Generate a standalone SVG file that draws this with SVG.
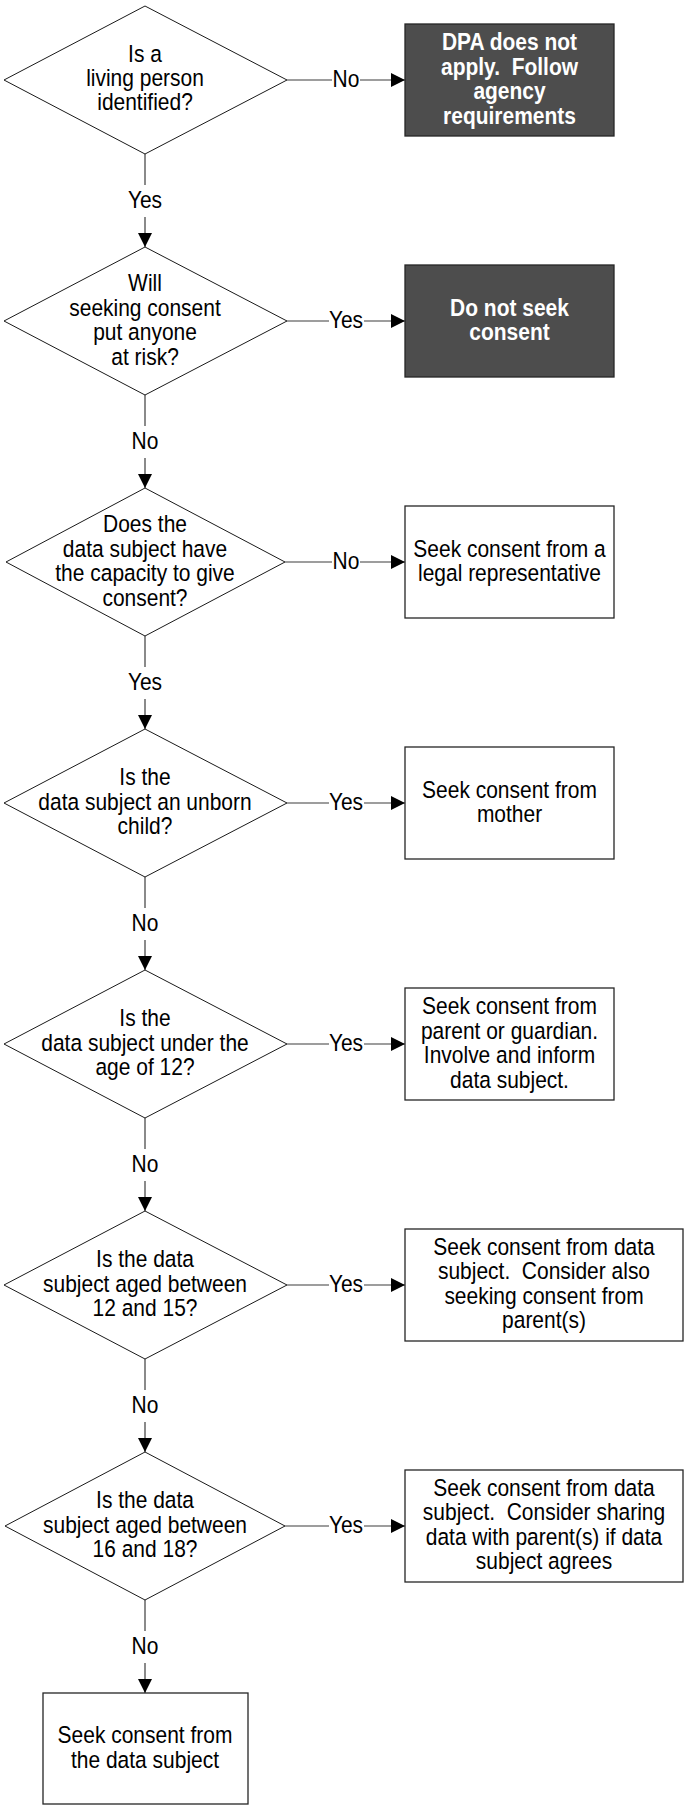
<svg xmlns="http://www.w3.org/2000/svg" width="684" height="1806" viewBox="0 0 684 1806">
<style>
.bg{fill:#ffffff}
.dia{fill:#ffffff;stroke:#1a1a1a;stroke-width:1}
.box{fill:#ffffff;stroke:#262626;stroke-width:1.3}
.dark{fill:#4d4d4d;stroke:#262626;stroke-width:1.3}
.t{font-family:"Liberation Sans",Arial,sans-serif;font-size:23.3px;fill:#000000;text-anchor:middle;white-space:pre}
.tw{font-family:"Liberation Sans",Arial,sans-serif;font-size:23.3px;font-weight:bold;fill:#ffffff;text-anchor:middle;white-space:pre}
.con{fill:none;stroke:#3c3c3c;stroke-width:1.2}
.lbg{fill:#ffffff}
</style>
<defs>
<marker id="arr" markerUnits="userSpaceOnUse" markerWidth="15" markerHeight="14" refX="14" refY="7" orient="auto">
<path d="M0,0 L14,7 L0,14 z" fill="#000000"/>
</marker>
</defs>
<rect class="bg" x="0" y="0" width="684" height="1806"/>

<g id="connectors">
<line class="con" x1="287" y1="80" x2="405" y2="80" marker-end="url(#arr)"/>
<line class="con" x1="287" y1="321" x2="405" y2="321" marker-end="url(#arr)"/>
<line class="con" x1="285" y1="562" x2="405" y2="562" marker-end="url(#arr)"/>
<line class="con" x1="287" y1="803" x2="405" y2="803" marker-end="url(#arr)"/>
<line class="con" x1="287" y1="1044" x2="405" y2="1044" marker-end="url(#arr)"/>
<line class="con" x1="287" y1="1285" x2="405" y2="1285" marker-end="url(#arr)"/>
<line class="con" x1="285" y1="1526" x2="405" y2="1526" marker-end="url(#arr)"/>
<line class="con" x1="145" y1="154" x2="145" y2="247" marker-end="url(#arr)"/>
<line class="con" x1="145" y1="395" x2="145" y2="488" marker-end="url(#arr)"/>
<line class="con" x1="145" y1="636" x2="145" y2="729" marker-end="url(#arr)"/>
<line class="con" x1="145" y1="877" x2="145" y2="970" marker-end="url(#arr)"/>
<line class="con" x1="145" y1="1118" x2="145" y2="1211" marker-end="url(#arr)"/>
<line class="con" x1="145" y1="1359" x2="145" y2="1452" marker-end="url(#arr)"/>
<line class="con" x1="145" y1="1600" x2="145" y2="1693" marker-end="url(#arr)"/>
<rect class="lbg" x="332" y="68" width="28" height="24"/><text class="t" transform="matrix(.9 0 0 1 346 87)">No</text>
<rect class="lbg" x="329" y="309" width="35" height="24"/><text class="t" transform="matrix(.9 0 0 1 346 328)">Yes</text>
<rect class="lbg" x="332" y="550" width="28" height="24"/><text class="t" transform="matrix(.9 0 0 1 346 569)">No</text>
<rect class="lbg" x="329" y="791" width="35" height="24"/><text class="t" transform="matrix(.9 0 0 1 346 810)">Yes</text>
<rect class="lbg" x="329" y="1032" width="35" height="24"/><text class="t" transform="matrix(.9 0 0 1 346 1051)">Yes</text>
<rect class="lbg" x="329" y="1273" width="35" height="24"/><text class="t" transform="matrix(.9 0 0 1 346 1292)">Yes</text>
<rect class="lbg" x="329" y="1514" width="35" height="24"/><text class="t" transform="matrix(.9 0 0 1 346 1533)">Yes</text>
<rect class="lbg" x="127" y="185" width="36" height="32"/><text class="t" transform="matrix(.9 0 0 1 145 208)">Yes</text>
<rect class="lbg" x="130" y="426" width="30" height="32"/><text class="t" transform="matrix(.9 0 0 1 145 449)">No</text>
<rect class="lbg" x="127" y="667" width="36" height="32"/><text class="t" transform="matrix(.9 0 0 1 145 690)">Yes</text>
<rect class="lbg" x="130" y="908" width="30" height="32"/><text class="t" transform="matrix(.9 0 0 1 145 931)">No</text>
<rect class="lbg" x="130" y="1149" width="30" height="32"/><text class="t" transform="matrix(.9 0 0 1 145 1172)">No</text>
<rect class="lbg" x="130" y="1390" width="30" height="32"/><text class="t" transform="matrix(.9 0 0 1 145 1413)">No</text>
<rect class="lbg" x="130" y="1631" width="30" height="32"/><text class="t" transform="matrix(.9 0 0 1 145 1654)">No</text>
</g>

<g id="d1">
<polygon class="dia" points="145,6 287,80 145,154 4,80"/>
<text class="t" transform="matrix(.9 0 0 1 145 62)">Is a</text>
<text class="t" transform="matrix(.9 0 0 1 145 86)">living person</text>
<text class="t" transform="matrix(.9 0 0 1 145 110)">identified?</text>
</g>
<g id="b1">
<rect class="dark" x="405" y="24" width="209" height="112"/>
<text class="tw" transform="matrix(.9 0 0 1 509.5 50)">DPA does not</text>
<text class="tw" transform="matrix(.9 0 0 1 509.5 74.5)">apply.  Follow</text>
<text class="tw" transform="matrix(.9 0 0 1 509.5 99)">agency</text>
<text class="tw" transform="matrix(.9 0 0 1 509.5 123.5)">requirements</text>
</g>

<g id="d2">
<polygon class="dia" points="145,247 287,321 145,395 4,321"/>
<text class="t" transform="matrix(.9 0 0 1 145 291)">Will</text>
<text class="t" transform="matrix(.9 0 0 1 145 315.5)">seeking consent</text>
<text class="t" transform="matrix(.9 0 0 1 145 340)">put anyone</text>
<text class="t" transform="matrix(.9 0 0 1 145 364.5)">at risk?</text>
</g>
<g id="b2">
<rect class="dark" x="405" y="265" width="209" height="112"/>
<text class="tw" transform="matrix(.9 0 0 1 509.5 315.5)">Do not seek</text>
<text class="tw" transform="matrix(.9 0 0 1 509.5 340)">consent</text>
</g>

<g id="d3">
<polygon class="dia" points="145,488 285,562 145,636 6,562"/>
<text class="t" transform="matrix(.9 0 0 1 145 532)">Does the</text>
<text class="t" transform="matrix(.9 0 0 1 145 556.5)">data subject have</text>
<text class="t" transform="matrix(.9 0 0 1 145 581)">the capacity to give</text>
<text class="t" transform="matrix(.9 0 0 1 145 605.5)">consent?</text>
</g>
<g id="b3">
<rect class="box" x="405" y="506" width="209" height="112"/>
<text class="t" transform="matrix(.9 0 0 1 509.5 556.5)">Seek consent from a</text>
<text class="t" transform="matrix(.9 0 0 1 509.5 581)">legal representative</text>
</g>

<g id="d4">
<polygon class="dia" points="145,729 287,803 145,877 4,803"/>
<text class="t" transform="matrix(.9 0 0 1 145 785)">Is the</text>
<text class="t" transform="matrix(.9 0 0 1 145 809.5)">data subject an unborn</text>
<text class="t" transform="matrix(.9 0 0 1 145 834)">child?</text>
</g>
<g id="b4">
<rect class="box" x="405" y="747" width="209" height="112"/>
<text class="t" transform="matrix(.9 0 0 1 509.5 797.5)">Seek consent from</text>
<text class="t" transform="matrix(.9 0 0 1 509.5 822)">mother</text>
</g>

<g id="d5">
<polygon class="dia" points="145,970 287,1044 145,1118 4,1044"/>
<text class="t" transform="matrix(.9 0 0 1 145 1026)">Is the</text>
<text class="t" transform="matrix(.9 0 0 1 145 1050.5)">data subject under the</text>
<text class="t" transform="matrix(.9 0 0 1 145 1075)">age of 12?</text>
</g>
<g id="b5">
<rect class="box" x="405" y="988" width="209" height="112"/>
<text class="t" transform="matrix(.9 0 0 1 509.5 1014)">Seek consent from</text>
<text class="t" transform="matrix(.9 0 0 1 509.5 1038.5)">parent or guardian.</text>
<text class="t" transform="matrix(.9 0 0 1 509.5 1063)">Involve and inform</text>
<text class="t" transform="matrix(.9 0 0 1 509.5 1087.5)">data subject.</text>
</g>

<g id="d6">
<polygon class="dia" points="145,1211 287,1285 145,1359 4,1285"/>
<text class="t" transform="matrix(.9 0 0 1 145 1267)">Is the data</text>
<text class="t" transform="matrix(.9 0 0 1 145 1291.5)">subject aged between</text>
<text class="t" transform="matrix(.9 0 0 1 145 1316)">12 and 15?</text>
</g>
<g id="b6">
<rect class="box" x="405" y="1229" width="278" height="112"/>
<text class="t" transform="matrix(.9 0 0 1 544 1254.5)">Seek consent from data</text>
<text class="t" transform="matrix(.9 0 0 1 544 1279)">subject.  Consider also</text>
<text class="t" transform="matrix(.9 0 0 1 544 1303.5)">seeking consent from</text>
<text class="t" transform="matrix(.9 0 0 1 544 1328)">parent(s)</text>
</g>

<g id="d7">
<polygon class="dia" points="145,1452 285,1526 145,1600 5,1526"/>
<text class="t" transform="matrix(.9 0 0 1 145 1508)">Is the data</text>
<text class="t" transform="matrix(.9 0 0 1 145 1532.5)">subject aged between</text>
<text class="t" transform="matrix(.9 0 0 1 145 1557)">16 and 18?</text>
</g>
<g id="b7">
<rect class="box" x="405" y="1470" width="278" height="112"/>
<text class="t" transform="matrix(.9 0 0 1 544 1495.5)">Seek consent from data</text>
<text class="t" transform="matrix(.9 0 0 1 544 1520)">subject.  Consider sharing</text>
<text class="t" transform="matrix(.9 0 0 1 544 1544.5)">data with parent(s) if data</text>
<text class="t" transform="matrix(.9 0 0 1 544 1569)">subject agrees</text>
</g>

<g id="b8">
<rect class="box" x="43" y="1693" width="205" height="111"/>
<text class="t" transform="matrix(.9 0 0 1 145 1743)">Seek consent from</text>
<text class="t" transform="matrix(.9 0 0 1 145 1767.5)">the data subject</text>
</g>
</svg>
